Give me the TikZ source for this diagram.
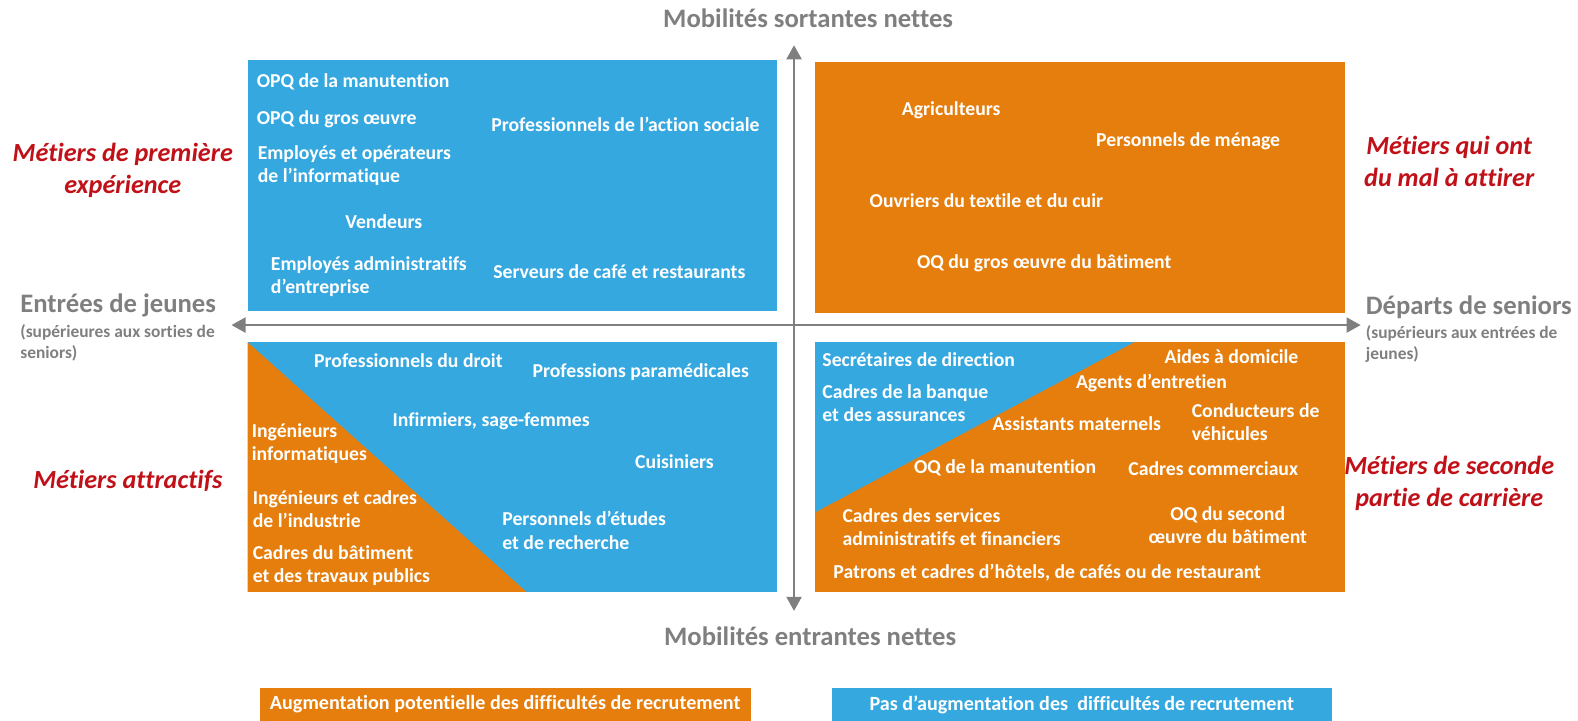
\documentclass[tikz,border=0pt]{standalone}
\usepackage{fontspec}
\setmainfont{Carlito}[Ligatures=NoCommon]
\usetikzlibrary{arrows.meta,positioning}
\definecolor{qblue}{RGB}{54,168,224}
\definecolor{qorange}{RGB}{229,126,12}
\definecolor{qred}{RGB}{192,16,24}
\definecolor{qgray}{RGB}{127,127,127}
\tikzset{
  jobtext/.style={text=white,font=\fontsize{19.6}{23}\selectfont\bfseries,align=left,anchor=west,inner sep=0pt},
  quadlabel/.style={text=qred,font=\fontsize{26}{32}\selectfont\bfseries\itshape,align=center,inner sep=0pt},
  axistitle/.style={text=qgray,font=\fontsize{26.5}{28}\selectfont\bfseries,inner sep=0pt},
  axisnote/.style={text=qgray,font=\fontsize{17.3}{21}\selectfont\bfseries,align=left,anchor=west,inner sep=0pt},
  legendtext/.style={text=white,font=\fontsize{20}{22}\selectfont\bfseries,inner sep=0pt},
  axisline/.style={draw=qgray,line width=2pt,{Triangle[width=15pt,length=14pt]}-{Triangle[width=15pt,length=14pt]}}
}
\begin{document}
\begin{tikzpicture}[x=1pt,y=-1pt]
		\useasboundingbox (0,0) rectangle (1568,716);
		
		% quadrant backgrounds
		\fill[qblue] (246,60) rectangle (772,309);
		\fill[qorange] (810,62) rectangle (1336,311);
		\fill[qblue] (246,340) rectangle (772,588);
		\fill[qorange] (246,340) -- (246,588) -- (523,588) -- cycle;
		\fill[qorange] (810,340) rectangle (1336,588);
		\fill[qblue] (810,340) -- (1127,340) -- (810,509) -- cycle;
		
		% axes
		\coordinate (ytop) at (789,45);
		\coordinate (ybot) at (789,607);
		\coordinate (xleft) at (230,323);
		\coordinate (xright) at (1352,323);
		\draw[axisline] (ybot) -- (ytop);
		\draw[axisline] (xleft) -- (xright);
		
		% axis titles
		\node[axistitle] (north) at (803,18) {Mobilités sortantes nettes};
		\node[axistitle] (south) at (805,632) {Mobilités entrantes nettes};
		\node[axistitle,anchor=west] (west) at (20,303) {Entrées de jeunes};
		\node[axisnote] (westnote) at (20,340.5) {(supérieures aux sorties de\\seniors)};
		\node[axistitle,anchor=west] (east) at (1357,305) {Départs de seniors};
		\node[axisnote] (eastnote) at (1357,342) {(supérieurs aux entrées de\\jeunes)};
		
		% quadrant names
		\node[quadlabel] (qnw) at (122,169) {Métiers de première\\expérience};
		\node[quadlabel] (qne) at (1440,160.5) {Métiers qui ont\\du mal à attirer};
		\node[quadlabel] (qsw) at (127,478) {Métiers attractifs};
		\node[quadlabel] (qse) at (1440,480) {Métiers de seconde\\partie de carrière};
		
		% top left jobs
		\foreach \x/\y/\mytext [count=\i] in {255/81/OPQ de la manutention,
			255/118/OPQ du gros œuvre,
			256/164.5/{Employés et opérateurs\\de l’informatique},
			343/220/Vendeurs,
			269/274.5/{Employés administratifs\\d’entreprise},
			488/124/Professionnels de l’action sociale,
			490/270/Serveurs de café et restaurants} {
			\node[jobtext] (nw-\i) at (\x,\y) {\mytext};
		}
		
		% top right jobs
		\foreach \x/\y/\mytext [count=\i] in {896/110/Agriculteurs,
			1089/140/Personnels de ménage,
			864/199/Ouvriers du textile et du cuir,
			911/262/OQ du gros œuvre du bâtiment} {
			\node[jobtext] (ne-\i) at (\x,\y) {\mytext};
		}
		
		% bottom left jobs
		\foreach \x/\y/\mytext [count=\i] in {312/358/Professionnels du droit,
			529/370/Professions paramédicales,
			390/419/{Infirmiers, sage-femmes},
			250/440.5/{Ingénieurs\\informatiques},
			631/459/Cuisiniers,
			251/505.5/{Ingénieurs et cadres\\de l’industrie},
			499/527/{Personnels d’études\\et de recherche},
			251/562/{Cadres du bâtiment\\et des travaux publics}} {
			\node[jobtext] (sw-\i) at (\x,\y) {\mytext};
		}
		
		% bottom right jobs
		\foreach \x/\y/\mytext [count=\i] in {817/357/Secrétaires de direction,
			817/400.5/{Cadres de la banque\\et des assurances},
			1157/354/Aides à domicile,
			1069/381/Agents d’entretien,
			986/421/Assistants maternels,
			1184/419.5/{Conducteurs de\\véhicules},
			908/465/OQ de la manutention,
			1121/466/Cadres commerciaux,
			837/524/{Cadres des services\\administratifs et financiers},
			828/569/{Patrons et cadres d’hôtels, de cafés ou de restaurant}} {
			\node[jobtext] (se-\i) at (\x,\y) {\mytext};
		}
		\node[jobtext,align=center,anchor=center] (se-oq) at (1220,521.5) {OQ du second\\œuvre du bâtiment};
		
		% legend
		\fill[qorange] (258,684) rectangle (746,716);
		\fill[qblue] (827,684) rectangle (1324,716);
		\node[legendtext] (legup) at (502,700) {Augmentation potentielle des difficultés de recrutement};
		\node[legendtext] (legno) at (1075,700) {Pas d’augmentation des \ difficultés de recrutement};
\end{tikzpicture}
\end{document}
